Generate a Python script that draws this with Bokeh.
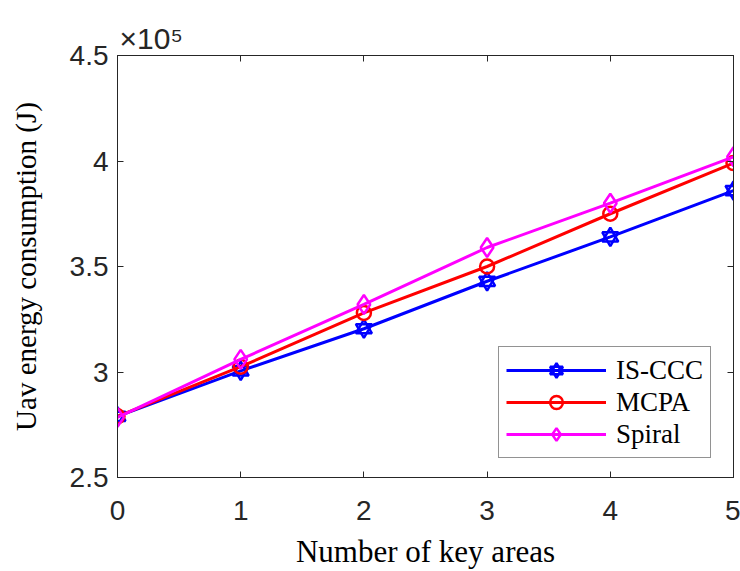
from bokeh.plotting import figure
from bokeh.models import (Range1d, FixedTicker, CustomJSTickFormatter, LinearAxis,
                          Legend, LegendItem, Title)
from bokeh.embed import file_html
from bokeh.resources import INLINE

# ---- data (energy in J) ----
key_areas = [0, 1, 2, 3, 4, 5]
is_ccc = [279000, 300500, 320500, 343000, 364000, 386000]
mcpa   = [279000, 302500, 328000, 350000, 375000, 399000]
spiral = [278500, 306000, 332000, 359000, 380000, 402000]
x_ticks = [0, 1, 2, 3, 4, 5]
y_ticks = [250000, 300000, 350000, 400000, 450000]

AX = "#262626"
p = figure(width=740, height=571, output_backend="svg", toolbar_location=None,
           x_range=Range1d(0, 5), y_range=Range1d(250000, 450000),
           min_border_left=117, min_border_right=7, min_border_top=55,
           min_border_bottom=94)
p.grid.visible = False
p.outline_line_color = AX
p.outline_line_width = 1
p.background_fill_color = "white"
p.border_fill_color = "white"

p.title = Title(text="×10⁵", align="left", offset=2, standoff=1,
                text_font="Liberation Sans", text_font_size="30px",
                text_font_style="normal", text_color=AX)

xa = p.xaxis[0]
ya = p.yaxis[0]
xa.ticker = FixedTicker(ticks=x_ticks)
ya.ticker = FixedTicker(ticks=y_ticks)
ya.formatter = CustomJSTickFormatter(code="return String(Math.round(tick/1e4)/10);")
for ax in (xa, ya):
    ax.major_tick_in = 6
    ax.major_tick_out = 0
    ax.minor_tick_line_color = None
    ax.axis_line_color = AX
    ax.major_tick_line_color = AX
    ax.major_label_text_font = "Liberation Sans"
    ax.major_label_text_font_size = "28px"
    ax.major_label_text_color = AX
    ax.axis_label_text_font = "Liberation Serif"
    ax.axis_label_text_font_style = "normal"
    ax.axis_label_text_color = "black"
xa.major_label_standoff = 23
xa.axis_label = "Number of key areas"
xa.axis_label_text_font_size = "31px"
xa.axis_label_standoff = 11
ya.major_label_standoff = 9
ya.axis_label = "Uav energy consumption (J)"
ya.axis_label_text_font_size = "29px"
ya.axis_label_standoff = 25

# mirrored tick axes (top/right)
for loc, tk in (("above", x_ticks), ("right", y_ticks)):
    a = LinearAxis(ticker=FixedTicker(ticks=tk),
                   formatter=CustomJSTickFormatter(code="return '';"))
    a.major_tick_in = 6
    a.major_tick_out = 0
    a.minor_tick_line_color = None
    a.axis_line_color = AX
    a.major_tick_line_color = AX
    a.major_label_text_font_size = "0px"
    a.major_label_standoff = 0
    p.add_layout(a, loc)

# series
lb = p.line(key_areas, is_ccc, line_color="#0000FF", line_width=3)
tb1 = p.scatter(key_areas, is_ccc, marker="triangle", size=16, line_color="#0000FF",
                line_width=2.5, fill_color=None)
tb2 = p.scatter(key_areas, is_ccc, marker="inverted_triangle", size=16, line_color="#0000FF",
                line_width=2.5, fill_color=None)
lr = p.line(key_areas, mcpa, line_color="#FF0000", line_width=3)
cr = p.scatter(key_areas, mcpa, marker="circle", size=14, line_color="#FF0000",
               line_width=2.5, fill_color=None)
lm = p.line(key_areas, spiral, line_color="#FF00FF", line_width=3)
dm = p.scatter(key_areas, spiral, marker="diamond", size=19, line_color="#FF00FF",
               line_width=2.5, fill_color=None)

legend = Legend(items=[LegendItem(label="IS-CCC", renderers=[lb, tb1, tb2]),
                       LegendItem(label="MCPA", renderers=[lr, cr]),
                       LegendItem(label="Spiral", renderers=[lm, dm])],
                location=(381, 19), margin=0, padding=7, spacing=0,
                glyph_width=100, glyph_height=32, label_height=32, label_standoff=10,
                label_text_font="Liberation Serif", label_text_font_size="27px",
                label_text_color="black", border_line_color=AX, border_line_width=1,
                background_fill_color="white", background_fill_alpha=1)
p.add_layout(legend, "center")

open("out.html", "w").write(file_html(p, INLINE))
